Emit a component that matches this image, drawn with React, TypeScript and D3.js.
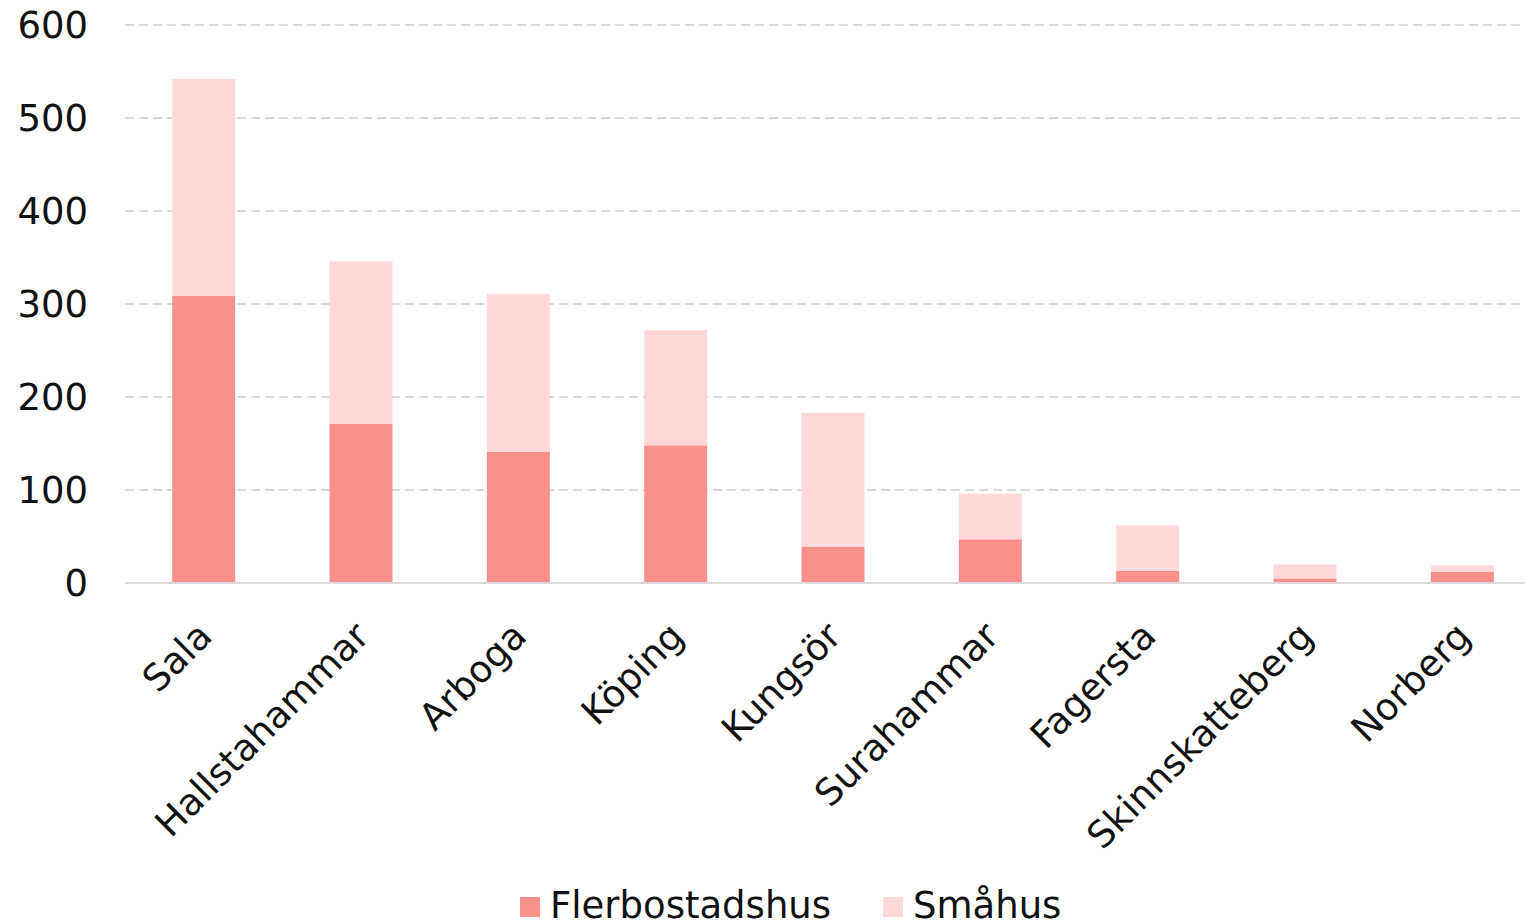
import React from "react";
import * as d3 from "d3";

const categories = ["Sala", "Hallstahammar", "Arboga", "Köping", "Kungsör", "Surahammar", "Fagersta", "Skinnskatteberg", "Norberg"];
const flerbostadshus = [309, 171, 141, 148, 39, 47, 13, 5, 12];
const smahus = [233, 175, 170, 124, 144, 49, 49, 15, 7];
const seriesNames = ["Flerbostadshus", "Småhus"];
const seriesColors = ["#fb8f89", "#ffd8d7"];
const yTicks = [0, 100, 200, 300, 400, 500, 600];

const W = 1525;
const H = 924;
const FONT = "'DejaVu Sans', sans-serif";
const FS = 37;

export default function App() {
  const x = d3.scaleBand<string>().domain(categories).range([125, 1541]).paddingInner(0.6).paddingOuter(0.3);
  const y = d3.scaleLinear().domain([0, 600]).range([583, 25]);
  const rows = categories.map((c, i) => ({ cat: c, Flerbostadshus: flerbostadshus[i], Småhus: smahus[i] }));
  const stacked = d3.stack<any>().keys(seriesNames)(rows);

  return (
    <svg width={W} height={H} style={{ position: "absolute", left: 0, top: 0, background: "#fff" }} fontFamily={FONT}>
      {yTicks.map((t) =>
        t === 0 ? null : (
          <line key={"g" + t} x1={125} x2={W} y1={y(t)} y2={y(t)} stroke="#dadada" strokeWidth={2} strokeDasharray="9,5" />
        )
      )}
      {yTicks.map((t) => (
        <text key={"t" + t} x={88} y={y(t)} dy="0.36em" textAnchor="end" fontSize={FS} fill="#111">
          {t}
        </text>
      ))}
      {stacked.map((s, si) =>
        s.map((d, i) => (
          <rect
            key={si + "-" + i}
            x={x(categories[i])!}
            width={x.bandwidth()}
            y={y(d[1])}
            height={y(d[0]) - y(d[1])}
            fill={seriesColors[si]}
          />
        ))
      )}
      <line x1={125} x2={W} y1={y(0)} y2={y(0)} stroke="#d9d9d9" strokeWidth={2} />
      {categories.map((c) => (
        <text
          key={"c" + c}
          transform={`translate(${x(c)! + x.bandwidth() / 2 - 8},${620}) rotate(-45)`}
          textAnchor="end"
          dy="0.7em"
          fontSize={FS}
          fill="#111"
        >
          {c}
        </text>
      ))}
      {seriesNames.map((n, i) => {
        const lx = [520, 883][i];
        return (
          <g key={"l" + n}>
            <rect x={lx} y={897} width={20} height={20} fill={seriesColors[i]} />
            <text x={lx + 30} y={918} fontSize={FS} fill="#111">
              {n}
            </text>
          </g>
        );
      })}
    </svg>
  );
}
